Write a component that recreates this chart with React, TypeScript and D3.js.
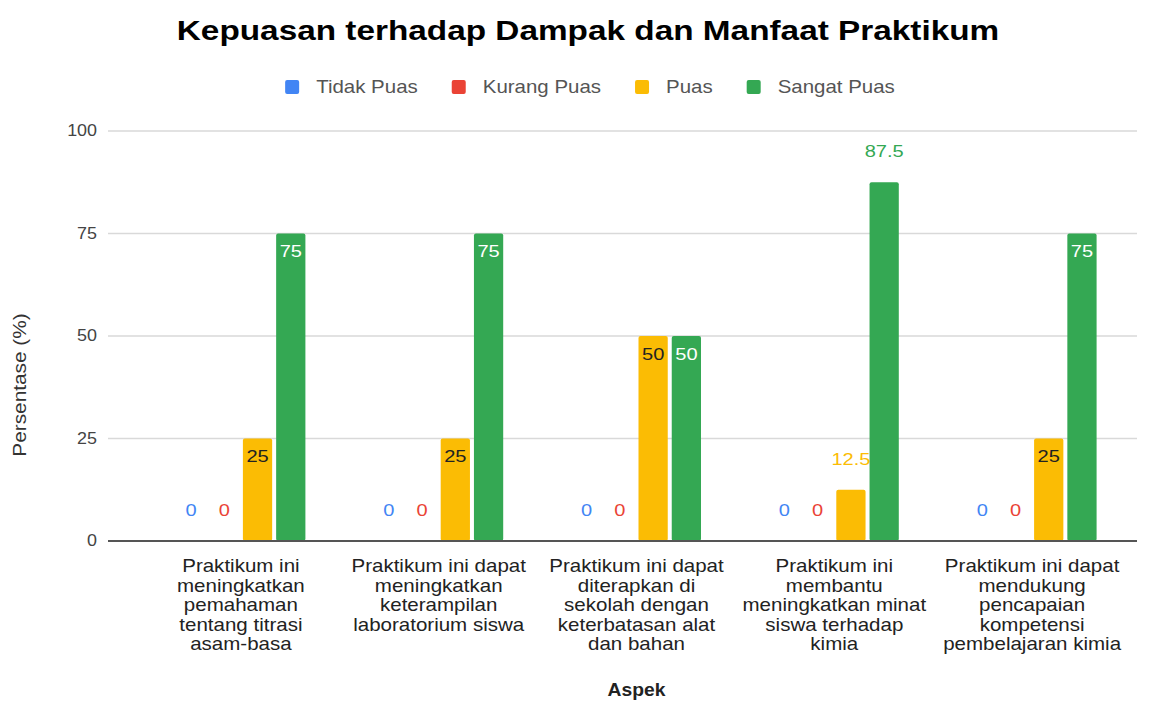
import React, { useEffect, useRef } from 'react';
import * as d3 from 'd3';

const categories = [
  'Praktikum ini meningkatkan pemahaman tentang titrasi asam-basa',
  'Praktikum ini dapat meningkatkan keterampilan laboratorium siswa',
  'Praktikum ini dapat diterapkan di sekolah dengan keterbatasan alat dan bahan',
  'Praktikum ini membantu meningkatkan minat siswa terhadap kimia',
  'Praktikum ini dapat mendukung pencapaian kompetensi pembelajaran kimia',
];

const categoryLines = [
  ['Praktikum ini', 'meningkatkan', 'pemahaman', 'tentang titrasi', 'asam-basa'],
  ['Praktikum ini dapat', 'meningkatkan', 'keterampilan', 'laboratorium siswa'],
  ['Praktikum ini dapat', 'diterapkan di', 'sekolah dengan', 'keterbatasan alat', 'dan bahan'],
  ['Praktikum ini', 'membantu', 'meningkatkan minat', 'siswa terhadap', 'kimia'],
  ['Praktikum ini dapat', 'mendukung', 'pencapaian', 'kompetensi', 'pembelajaran kimia'],
];

const seriesNames = ['Tidak Puas', 'Kurang Puas', 'Puas', 'Sangat Puas'];
const seriesColors = ['#4285F4', '#EA4335', '#FBBC04', '#34A853'];

const tidakPuas = [0, 0, 0, 0, 0];
const kurangPuas = [0, 0, 0, 0, 0];
const puas = [25, 25, 50, 12.5, 25];
const sangatPuas = [75, 75, 50, 87.5, 75];

const yTicks = [0, 25, 50, 75, 100];

const title = 'Kepuasan terhadap Dampak dan Manfaat Praktikum';
const xTitle = 'Aspek';
const yTitle = 'Persentase (%)';

const W = 1151;
const H = 702;
const FONT = '"Liberation Sans", Arial, Helvetica, sans-serif';

export default function App() {
  const svgRef = useRef<SVGSVGElement>(null);

  useEffect(() => {
    if (!svgRef.current) return;
    const svg = d3.select(svgRef.current);
    svg.selectAll('*').remove();

    const series = [tidakPuas, kurangPuas, puas, sangatPuas];

    const x0 = d3.scaleBand<string>().domain(categories).range([142, 1131]);
    const x1 = d3.scaleBand<string>()
      .domain(seriesNames)
      .range([-64.5, 64.5])
      .paddingInner(0.12);
    const y = d3.scaleLinear().domain([0, 100]).range([541, 131]);
    const cx = (c: string) => x0(c)! + x0.bandwidth() / 2;

    // text that is a bit wider than plain Arial, like the source
    const addText = (
      parent: d3.Selection<any, any, any, any>,
      x: number, yy: number, txt: string,
      size: number, sx: number, fill: string, anchor = 'middle', weight = 'normal', rotate = 0
    ) => parent.append('text')
      .attr('transform', `translate(${x},${yy})${rotate ? ` rotate(${rotate})` : ''} scale(${sx},1)`)
      .attr('text-anchor', anchor)
      .attr('font-family', FONT)
      .attr('font-size', size)
      .attr('font-weight', weight)
      .attr('fill', fill)
      .text(txt);

    // Title
    addText(svg, 588, 40, title, 27, 1.235, '#000', 'middle', 'bold');

    // Legend
    const legend = svg.append('g');
    let cursor = 0;
    seriesNames.forEach((name, i) => {
      legend.append('rect')
        .attr('x', cursor)
        .attr('y', 80)
        .attr('width', 14)
        .attr('height', 14)
        .attr('rx', 2)
        .attr('fill', seriesColors[i]);
      const t = addText(legend, cursor + 31, 93, name, 17.5, 1.17, '#555', 'start');
      const len = (t.node() as SVGTextElement).getComputedTextLength() * 1.17;
      cursor += 31 + len + 34;
    });
    const legendWidth = cursor - 34;
    legend.attr('transform', `translate(${590 - legendWidth / 2},0)`);

    // Gridlines + y ticks
    yTicks.forEach(t => {
      if (t !== 0) {
        svg.append('line')
          .attr('x1', 108).attr('x2', 1137)
          .attr('y1', y(t)).attr('y2', y(t))
          .attr('stroke', '#d9d9d9')
          .attr('stroke-width', 1.5);
      }
      addText(svg, 97, y(t), String(t), 16, 1.12, '#444', 'end')
        .attr('dominant-baseline', 'central');
    });

    // Bars
    categories.forEach((c, i) => {
      series.forEach((vals, j) => {
        const v = vals[i];
        const bx = cx(c) + x1(seriesNames[j])!;
        if (v > 0) {
          svg.append('rect')
            .attr('x', bx)
            .attr('y', y(v))
            .attr('width', x1.bandwidth())
            .attr('height', y(0) - y(v))
            .attr('rx', 2)
            .attr('fill', seriesColors[j]);
        }
        const txt = String(v);
        const inside = v > 0 && txt.length <= 2;
        const lx = bx + x1.bandwidth() / 2;
        const ly = inside ? y(v) + 18 : y(v) - 31;
        const fill = inside ? (j === 3 ? '#fff' : '#222') : seriesColors[j];
        addText(svg, lx, ly, txt, 17, 1.18, fill, 'middle')
          .attr('dominant-baseline', 'central');
      });
    });

    // Baseline
    svg.append('line')
      .attr('x1', 108).attr('x2', 1137)
      .attr('y1', y(0)).attr('y2', y(0))
      .attr('stroke', '#555')
      .attr('stroke-width', 2);

    // Category labels
    categories.forEach((c, i) => {
      const t = svg.append('text')
        .attr('transform', `translate(${cx(c)},572) scale(1.14,1)`)
        .attr('text-anchor', 'middle')
        .attr('font-family', FONT)
        .attr('font-size', 18)
        .attr('fill', '#222');
      categoryLines[i].forEach((line, k) => {
        t.append('tspan').attr('x', 0).attr('y', k * 19.6).text(line);
      });
    });

    // Axis titles
    addText(svg, (x0.range()[0] + x0.range()[1]) / 2, 690, xTitle, 18, 1.07, '#222', 'middle', 'bold')
      .attr('dominant-baseline', 'central');
    addText(svg, 20.5, 385, yTitle, 17.5, 1.19, '#333', 'middle', 'normal', -90)
      .attr('dominant-baseline', 'central');
  }, []);

  return (
    <svg
      ref={svgRef}
      width={W}
      height={H}
      style={{ position: 'absolute', left: 0, top: 0, background: '#fff' }}
    />
  );
}
